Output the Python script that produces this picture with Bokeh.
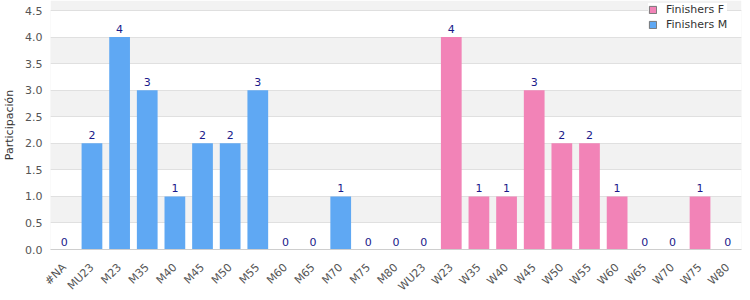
import math
from bokeh.plotting import figure
from bokeh.models import (ColumnDataSource, Legend, LegendItem, NumeralTickFormatter, Range1d,
                          FixedTicker, BoxAnnotation)
from bokeh.core.properties import value
from bokeh.embed import file_html
from bokeh.resources import INLINE

categories = ["#NA", "MU23", "M23", "M35", "M40", "M45", "M50", "M55", "M60", "M65", "M70", "M75",
              "M80", "WU23", "W23", "W35", "W40", "W45", "W50", "W55", "W60", "W65", "W70", "W75", "W80"]
finishers_m = [0, 2, 4, 3, 1, 2, 2, 3, 0, 0, 1, 0, 0, 0, 0, 0, 0, 0, 0, 0, 0, 0, 0, 0, 0]
finishers_f = [0, 0, 0, 0, 0, 0, 0, 0, 0, 0, 0, 0, 0, 0, 4, 1, 1, 3, 2, 2, 1, 0, 0, 1, 0]
y_ticks = [0, 0.5, 1, 1.5, 2, 2.5, 3, 3.5, 4, 4.5]
y_max = 4.5

totals = [m + f for m, f in zip(finishers_m, finishers_f)]
src = ColumnDataSource(dict(cat=categories, m=finishers_m, f=finishers_f,
                            tot=totals, lbl=[str(t) for t in totals]))

FONT = "DejaVu Sans"
BLUE = "#5fa8f3"
PINK = "#f283b7"

# frame reaches the top of the canvas; a 10px strip above y_max leaves room for the legend
frame_h = 249
top_pad_px = 10
p = figure(x_range=categories,
           y_range=Range1d(0, y_max * frame_h / (frame_h - top_pad_px)),
           width=750, height=300, output_backend="svg", toolbar_location=None,
           min_border_left=10, min_border_right=9, min_border_top=0, min_border_bottom=51)

p.vbar_stack(["m", "f"], x="cat", width=0.75, source=src, color=[BLUE, PINK], line_color=None)

p.text(x="cat", y="tot", text="lbl", source=src, text_align="center", text_baseline="bottom",
       y_offset=-4, text_font=value(FONT), text_font_size="11px", text_color="#1a1a8a")

p.outline_line_color = None
p.background_fill_color = "white"
p.border_fill_color = "white"

p.xgrid.grid_line_color = None
p.ygrid.grid_line_color = "#e0e0e0"
p.ygrid.band_fill_color = "#f2f2f2"
p.ygrid.band_fill_alpha = 1.0

p.add_layout(BoxAnnotation(bottom=0, top=y_max, fill_color=None, fill_alpha=0,
                           line_color="#dddddd", line_width=1))

p.yaxis.ticker = FixedTicker(ticks=y_ticks)
p.yaxis.formatter = NumeralTickFormatter(format="0.0")
p.yaxis.axis_line_color = None
p.yaxis.major_tick_line_color = None
p.yaxis.minor_tick_line_color = None
p.yaxis.major_tick_out = 0
p.yaxis.minor_tick_out = 0
p.yaxis.major_label_standoff = 8
p.yaxis.axis_label = "Participación"
p.yaxis.axis_label_text_font = FONT
p.yaxis.axis_label_text_font_style = "normal"
p.yaxis.axis_label_text_font_size = "11px"
p.yaxis.axis_label_text_color = "#333333"
p.yaxis.axis_label_standoff = 6

p.xaxis.axis_line_color = "#cccccc"
p.xaxis.major_tick_line_color = None
p.xaxis.minor_tick_line_color = None
p.xaxis.major_label_orientation = math.pi / 4
p.xaxis.major_label_standoff = 10

for ax in (p.xaxis, p.yaxis):
    ax.major_label_text_font = FONT
    ax.major_label_text_font_size = "11px"
    ax.major_label_text_color = "#555555"

# legend proxies, placed below the visible range so only their legend swatches show
rf = p.vbar(x=[categories[0]], top=[-2], bottom=[-3], width=0.5, fill_color=PINK, line_color="#777777")
rm = p.vbar(x=[categories[0]], top=[-2], bottom=[-3], width=0.5, fill_color=BLUE, line_color="#777777")
legend = Legend(items=[LegendItem(label="Finishers F", renderers=[rf]),
                       LegendItem(label="Finishers M", renderers=[rm])],
                location=(598, 218), orientation="vertical",
                label_text_font=FONT, label_text_font_size="11px", label_text_color="#333333",
                glyph_width=9, glyph_height=9, label_height=10, spacing=2, padding=3,
                margin=0, border_line_color=None, background_fill_color="white",
                background_fill_alpha=1.0, label_standoff=9)
p.add_layout(legend, "center")

open("out.html", "w").write(file_html(p, INLINE))
